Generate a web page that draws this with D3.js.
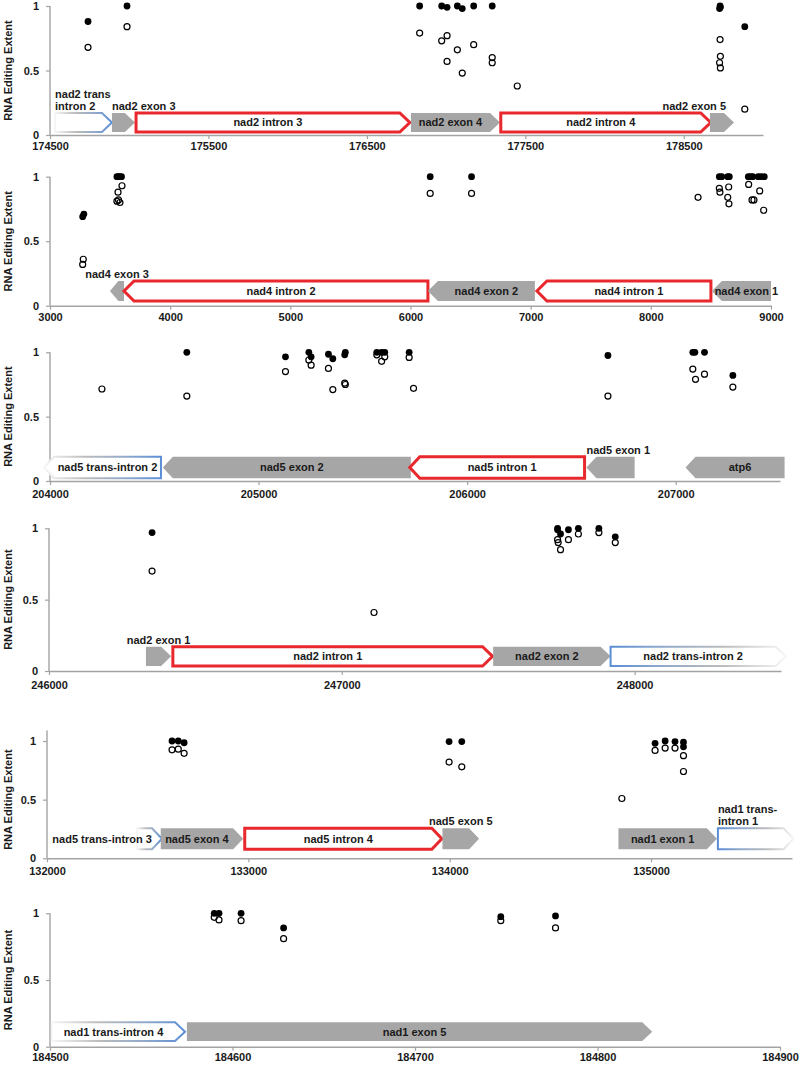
<!DOCTYPE html>
<html><head><meta charset="utf-8">
<script src="https://cdn.jsdelivr.net/npm/d3@7"></script>
<style>
html,body{margin:0;padding:0;background:#fff;}
svg{display:block;font-family:"Liberation Sans",Arial,sans-serif;}
</style></head>
<body>
<svg id="chart" width="800" height="1066"></svg>
<script>
// ---------------- DATA ----------------
// Panel 1 (nad2 region, 174500-179000)
const p1Ticks = [174500, 175500, 176500, 177500, 178500];
const p1Genes = [
  {name:"nad2 trans\nintron 2", start:174532, end:174891, kind:"trans", dir:1, fade:"left", label:"aboveL"},
  {name:"nad2 exon 3", start:174891, end:175036, kind:"exon", dir:1, label:"aboveL"},
  {name:"nad2 intron 3", start:175043, end:176771, kind:"intron", dir:1, label:"in"},
  {name:"nad2 exon 4", start:176778, end:177340, kind:"exon", dir:1, label:"in"},
  {name:"nad2 intron 4", start:177345, end:178670, kind:"intron", dir:1, label:"in"},
  {name:"nad2 exon 5", start:178665, end:178817, kind:"exon", dir:1, label:"aboveR"}
];
const p1Filled = [[174740,0.88],[174986,1.0],[176833,1.0],[176972,1.0],[177006,0.99],[177071,1.0],[177102,0.98],[177174,1.0],[177291,1.0],[178726,0.98],[178729,1.0],[178731,0.99],[178885,0.84]];
const p1Open = [[174740,0.68],[174986,0.84],[176833,0.79],[176972,0.73],[177006,0.77],[177006,0.57],[177071,0.66],[177102,0.48],[177174,0.70],[177291,0.60],[177291,0.56],[177449,0.38],[178729,0.74],[178731,0.61],[178726,0.56],[178731,0.52],[178885,0.20]];

// Panel 2 (nad4 region, 3000-9000)
const p2Ticks = [3000, 4000, 5000, 6000, 7000, 8000, 9000];
const p2Genes = [
  {name:"nad4 exon 3", start:3499, end:3616, kind:"exon", dir:-1, label:"aboveC"},
  {name:"nad4 intron 2", start:3616, end:6145, kind:"intron", dir:-1, label:"in"},
  {name:"nad4 exon 2", start:6145, end:7035, kind:"exon", dir:-1, label:"in"},
  {name:"nad4 intron 1", start:7052, end:8500, kind:"intron", dir:-1, label:"in"},
  {name:"nad4 exon 1", start:8508, end:9000, kind:"exon", dir:-1, label:"in"}
];
const p2Filled = [[3272,0.69],[3282,0.71],[3557,1.0],[3570,1.0],[3582,1.0],[3595,1.0],[6164,1.0],[6508,1.0],[8570,1.0],[8590,1.0],[8640,1.0],[8653,1.0],[8811,1.0],[8831,1.0],[8848,1.0],[8894,1.0],[8917,1.0],[8944,1.0]];
const p2Open = [[3277,0.36],[3272,0.32],[3557,0.81],[3566,0.88],[3570,0.82],[3582,0.80],[3599,0.93],[6164,0.87],[6508,0.87],[8393,0.84],[8570,0.91],[8575,0.88],[8648,0.92],[8640,0.84],[8650,0.79],[8814,0.94],[8842,0.82],[8858,0.82],[8906,0.89],[8939,0.74]];

// Panel 3 (nad5 / atp6 region, 204000-207500)
const p3Ticks = [204000, 205000, 206000, 207000];
const p3Genes = [
  {name:"nad5 trans-intron 2", start:203971, end:204532, kind:"trans", dir:-1, fade:"left", label:"in"},
  {name:"nad5 exon 2", start:204541, end:205730, kind:"exon", dir:-1, label:"in"},
  {name:"nad5 intron 1", start:205725, end:206563, kind:"intron", dir:-1, label:"in"},
  {name:"nad5 exon 1", start:206572, end:206803, kind:"exon", dir:-1, label:"aboveL"},
  {name:"atp6", start:207047, end:207522, kind:"exon", dir:-1, label:"in"}
];
const p3Filled = [[204656,1.0],[205129,0.965],[205241,1.0],[205252,0.965],[205335,0.985],[205356,0.95],[205413,0.98],[205416,1.0],[205567,1.0],[205590,1.0],[205605,1.0],[205722,1.0],[206675,0.975],[207082,1.0],[207092,1.0],[207138,1.0],[207274,0.82]];
const p3Open = [[204249,0.715],[204656,0.66],[205129,0.85],[205241,0.94],[205252,0.90],[205335,0.875],[205356,0.71],[205413,0.76],[205416,0.75],[205567,0.98],[205590,0.93],[205605,0.965],[205722,0.96],[205743,0.72],[206675,0.66],[207082,0.87],[207095,0.79],[207138,0.83],[207274,0.73]];

// Panel 4 (nad2 region, 246000-248500)
const p4Ticks = [246000, 247000, 248000];
const p4Genes = [
  {name:"nad2 exon 1", start:246331, end:246417, kind:"exon", dir:1, label:"aboveC"},
  {name:"nad2 intron 1", start:246423, end:247515, kind:"intron", dir:1, label:"in"},
  {name:"nad2 exon 2", start:247517, end:247918, kind:"exon", dir:1, label:"in"},
  {name:"nad2 trans-intron 2", start:247918, end:248516, kind:"trans", dir:1, fade:"right", label:"in"}
];
const p4Filled = [[246352,0.97],[247737,1.0],[247737,0.99],[247747,0.96],[247774,0.99],[247808,1.0],[247878,1.0],[247934,0.94]];
const p4Open = [[246352,0.70],[247110,0.41],[247737,0.92],[247739,0.90],[247747,0.85],[247774,0.92],[247808,0.96],[247878,0.97],[247934,0.90]];

// Panel 5 (nad5 / nad1 region, 132000-135700)
const p5Ticks = [132000, 133000, 134000, 135000];
const p5Genes = [
  {name:"nad5 trans-intron 3", start:132447, end:132571, kind:"trans", dir:1, fade:"left", label:"inEnd"},
  {name:"nad5 exon 4", start:132565, end:132974, kind:"exon", dir:1, label:"in"},
  {name:"nad5 intron 4", start:132982, end:133961, kind:"intron", dir:1, label:"in"},
  {name:"nad5 exon 5", start:133964, end:134146, kind:"exon", dir:1, label:"aboveC"},
  {name:"nad1 exon 1", start:134838, end:135327, kind:"exon", dir:1, label:"in"},
  {name:"nad1 trans-\nintron 1", start:135332, end:135708, kind:"trans", dir:1, fade:"right", label:"aboveL"}
];
const p5Filled = [[132621,1.0],[132652,1.0],[132681,0.985],[133997,0.995],[134060,0.995],[135020,0.98],[135070,1.0],[135119,0.995],[135161,0.99],[135161,0.95]];
const p5Open = [[132621,0.925],[132652,0.93],[132681,0.895],[133997,0.82],[134060,0.78],[134855,0.51],[135020,0.92],[135070,0.94],[135119,0.94],[135161,0.875],[135161,0.74]];

// Panel 6 (nad1 region, 184500-184900)
const p6Ticks = [184500, 184600, 184700, 184800, 184900];
const p6Genes = [
  {name:"nad1 trans-intron 4", start:184501, end:184574, kind:"trans", dir:1, fade:"left", label:"in"},
  {name:"nad1 exon 5", start:184575, end:184830, kind:"exon", dir:1, label:"in"}
];
const p6Filled = [[184590,1.0],[184592.6,1.0],[184604.7,1.0],[184628,0.89],[184747,0.975],[184777,0.98]];
const p6Open = [[184590,0.97],[184592.6,0.95],[184604.7,0.945],[184628,0.81],[184747,0.945],[184777,0.89]];

const yTicks = [0, 0.5, 1];
const yTitle = "RNA Editing Extent";

// ---------------- LAYOUT ----------------
const panels = [
  {domain:[174500,179000], xr:[50,763], y0:135,   y1:6,     yMax:1.0, ticks:p1Ticks, genes:p1Genes, filled:p1Filled, open:p1Open, gBot:3,   gH:19,   pad:3},
  {domain:[3000,9000],     xr:[50,771], y0:305.7, y1:176.7, yMax:1.0, ticks:p2Ticks, genes:p2Genes, filled:p2Filled, open:p2Open, gBot:4.7, gH:20,   pad:4},
  {domain:[204000,207500], xr:[50,780], y0:481,   y1:352.3, yMax:1.0, ticks:p3Ticks, genes:p3Genes, filled:p3Filled, open:p3Open, gBot:2.7, gH:21.6, pad:5},
  {domain:[246000,248500], xr:[49,781], y0:671,   y1:528.3, yMax:1.0, ticks:p4Ticks, genes:p4Genes, filled:p4Filled, open:p4Open, gBot:5,   gH:19.3, pad:6},
  {domain:[132000,135700], xr:[47,792], y0:858.3, y1:741,   yMax:1.09,ticks:p5Ticks, genes:p5Genes, filled:p5Filled, open:p5Open, gBot:9,   gH:21,   pad:5},
  {domain:[184500,184900], xr:[50,780], y0:1046.7,y1:913.3, yMax:1.0, ticks:p6Ticks, genes:p6Genes, filled:p6Filled, open:p6Open, gBot:5.7, gH:18.7, pad:3}
];

const C = {gray:"#a6a6a6", red:"#e8282c", blue:"#5b8ed6", axis:"#a3a3a3", text:"#1a1a1a"};
const svg = d3.select("#chart");
const defs = svg.append("defs");
function grad(id, fade){
  const g = defs.append("linearGradient").attr("id", id)
    .attr("x1", 0).attr("x2", 1).attr("y1", 0).attr("y2", 0);
  const stops = [[0,"#f6f6f6"],[0.35,"#bdbdbd"],[0.72,"#8ea8cc"],[1,C.blue]];
  const s = fade === "left" ? stops : stops.map(([o,c]) => [1-o, c]).reverse();
  s.forEach(([o,c]) => g.append("stop").attr("offset", o).attr("stop-color", c));
}
grad("fadeLeft", "left");
grad("fadeRight", "right");

panels.forEach((p, i) => {
  const x = d3.scaleLinear().domain(p.domain).range(p.xr);
  const y = d3.scaleLinear().domain([0, 1]).range([p.y0, p.y1]);
  const g = svg.append("g");

  // axes
  const xa = g.append("g").attr("transform", `translate(0,${p.y0})`)
    .call(d3.axisBottom(x).tickValues(p.ticks).tickFormat(d3.format("d")).tickSize(4).tickSizeOuter(0).tickPadding(p.pad));
  const ya = g.append("g").attr("transform", `translate(${p.xr[0]},0)`)
    .call(d3.axisLeft(y).tickValues(yTicks).tickFormat(d => d === 0.5 ? "0.5" : d3.format("d")(d)).tickSize(4).tickSizeOuter(0).tickPadding(7));
  ya.select(".domain").attr("d", `M0,${y(p.yMax)}V${y(0)}`);
  [xa, ya].forEach(a => {
    a.select(".domain").attr("stroke", C.axis).attr("stroke-width", 1.4);
    a.selectAll(".tick line").attr("stroke", C.axis).attr("stroke-width", 1.2);
    a.selectAll(".tick text").attr("fill", C.text).attr("font-size", 11).attr("font-weight", "bold")
      .attr("font-family", '"Liberation Sans",Arial,sans-serif');
  });

  // y title
  g.append("text").attr("transform", `translate(12,${y(0.5)}) rotate(-90)`)
    .attr("text-anchor", "middle").attr("font-size", 11).attr("font-weight", "bold").attr("fill", C.text)
    .text(yTitle);

  // genes
  const yB = p.y0 - p.gBot, yT = yB - p.gH, yM = (yT + yB) / 2;
  const gg = g.append("g");
  p.genes.forEach(d => {
    const x0 = x(d.start), x1 = x(d.end);
    const tip = Math.min(10, (x1 - x0) * 0.6);
    let path;
    if (d.dir > 0) path = `M${x0},${yT}L${x1-tip},${yT}L${x1},${yM}L${x1-tip},${yB}L${x0},${yB}Z`;
    else path = `M${x1},${yT}L${x0+tip},${yT}L${x0},${yM}L${x0+tip},${yB}L${x1},${yB}Z`;
    const sh = gg.append("path").attr("d", path).attr("stroke-linejoin", "miter");
    if (d.kind === "exon") sh.attr("fill", C.gray).attr("stroke", "none");
    else if (d.kind === "intron") sh.attr("fill", "#fff").attr("stroke", C.red).attr("stroke-width", 3);
    else sh.attr("fill", "#fff").attr("stroke", d.fade === "left" ? "url(#fadeLeft)" : "url(#fadeRight)").attr("stroke-width", 2);
    d._x0 = x0; d._x1 = x1; d._tip = tip;
  });
  p.genes.forEach(d => {
    const lines = d.name.split("\n");
    const t = gg.append("text").attr("font-size", 11).attr("font-weight", "bold").attr("fill", C.text);
    const bodyL = d.dir > 0 ? d._x0 : d._x0 + d._tip;
    const bodyR = d.dir > 0 ? d._x1 - d._tip : d._x1;
    if (d.label === "in") {
      t.attr("x", (bodyL + bodyR) / 2).attr("y", yM).attr("dy", "0.36em").attr("text-anchor", "middle").text(d.name);
    } else if (d.label === "inEnd") {
      t.attr("x", bodyR).attr("y", yM).attr("dy", "0.36em").attr("text-anchor", "end").text(d.name);
    } else {
      const anchor = d.label === "aboveL" ? "start" : d.label === "aboveR" ? "end" : "middle";
      const tx = d.label === "aboveL" ? d._x0 : d.label === "aboveR" ? d._x1 - 8 : (d._x0 + d._x1) / 2;
      lines.forEach((ln, k) => {
        t.append("tspan").attr("x", tx).attr("y", yT - 3 - (lines.length - 1 - k) * 12.5).text(ln);
      });
      t.attr("text-anchor", anchor);
    }
  });

  // points
  g.append("g").selectAll("circle").data(p.filled).join("circle")
    .attr("cx", d => x(d[0])).attr("cy", d => y(d[1])).attr("r", 3.4).attr("fill", "#000");
  g.append("g").selectAll("circle").data(p.open).join("circle")
    .attr("cx", d => x(d[0])).attr("cy", d => y(d[1])).attr("r", 3).attr("fill", "none")
    .attr("stroke", "#000").attr("stroke-width", 1.2);
});
</script>
</body></html>
